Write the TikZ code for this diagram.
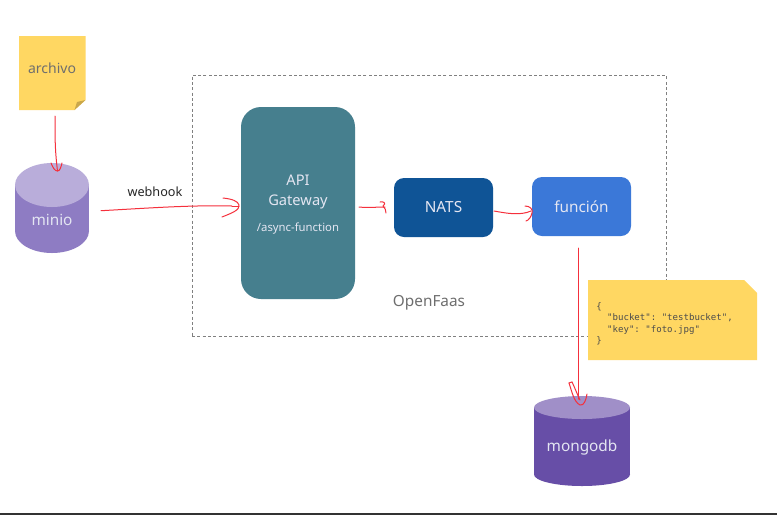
\documentclass[tikz,border=0pt]{standalone}
\usepackage{fontspec}
\setmainfont{Noto Sans}
\setmonofont{DejaVu Sans Mono}
\definecolor{notey}{HTML}{FFD762}
\definecolor{foldy}{HTML}{C9A74C}
\definecolor{apibox}{HTML}{467F8E}
\definecolor{natsbox}{HTML}{0F5496}
\definecolor{funcbox}{HTML}{3B78D8}
\definecolor{miniobody}{HTML}{8E7CC3}
\definecolor{miniotop}{HTML}{B9ADDA}
\definecolor{mongobody}{HTML}{674EA7}
\definecolor{mongotop}{HTML}{A08FC8}
\definecolor{lighttxt}{HTML}{E4E6F2}
\definecolor{graytxt}{HTML}{6E6E6E}
\definecolor{pen}{HTML}{F5303C}
\tikzset{
  box/.style={rectangle,draw=none,text=lighttxt,font=\fontsize{11.5}{14}\selectfont},
  lbl/.style={text=lighttxt,font=\fontsize{11.5}{14}\selectfont},
  redline/.style={draw=pen,line width=0.75pt,line cap=round,line join=round},
}
\begin{document}
\begin{tikzpicture}[x=0.75pt,y=-0.75pt]
\useasboundingbox (0,0) rectangle (777,515);
  \fill[white] (0,0) rectangle (777,515);
  \coordinate (bl) at (0,514);
  \coordinate (br) at (777,514);
  \draw[black!80,line width=1.2pt] (bl) -- (br);
  \node[rectangle,draw=black!50,dash pattern=on 2.2pt off 1.8pt,line width=0.6pt,minimum width=355.5pt,minimum height=195.75pt,inner sep=0pt] (openfaas) at (429,205.5) {};
  \node[text=graytxt,font=\fontsize{11.5}{14}\selectfont] (openfaaslbl) at (429,303) {OpenFaas};
  \fill[notey] (19,36) -- (85.5,36) -- (85.5,100) -- (74.5,110) -- (19,110) -- cycle;
  \fill[foldy] (85.5,100) -- (74.5,110) -- (77,102) -- cycle;
  \node[text=graytxt,font=\fontsize{10.5}{13}\selectfont] (archivo) at (52,68) {archivo};
  \fill[miniobody] (15,185) rectangle (89,231);
  \fill[miniobody] (52,231) ellipse [x radius=37,y radius=22];
  \fill[miniotop] (52,185) ellipse [x radius=37,y radius=22];
  \node[lbl] (minio) at (52,220) {minio};
  \node[box,fill=apibox,rounded corners=15pt,minimum width=85.5pt,minimum height=144pt] (api) at (298,203) {};
  \node[text=lighttxt,font=\fontsize{11}{15}\selectfont,align=center] (apilbl) at (298,192) {API\\Gateway};
  \node[text=lighttxt,font=\fontsize{8.5}{10}\selectfont] (asynclbl) at (298,229) {/async-function};
  \node[box,fill=natsbox,rounded corners=7.5pt,minimum width=74.25pt,minimum height=44.25pt] (nats) at (443.5,207.5) {NATS};
  \node[box,fill=funcbox,rounded corners=7.5pt,minimum width=74.25pt,minimum height=44.25pt] (funcion) at (581.5,206.5) {función};
  \fill[notey] (588,280) -- (744,280) -- (757,293) -- (757,360) -- (588,360) -- cycle;
  \node[anchor=west,inner sep=0pt,text=black!70,align=left,font=\fontsize{6.8}{8.6}\selectfont\ttfamily] (jsontxt) at (596,324) {\{\\\ \ "bucket": "testbucket",\\\ \ "key": "foto.jpg"\\\}};
  \fill[mongobody] (534,407.5) rectangle (630,474.5);
  \fill[mongobody] (582,474.5) ellipse [x radius=48,y radius=11.5];
  \fill[mongotop] (582,407.5) ellipse [x radius=48,y radius=11.5];
  \node[lbl] (mongodb) at (582,448) {mongodb};
  \node[text=black!85,font=\fontsize{9.5}{12}\selectfont] (webhook) at (155,192) {webhook};
  \coordinate (a1) at (55,116);
  \coordinate (a2) at (57.5,171);
  \coordinate (w1) at (101,210.7);
  \coordinate (w2) at (232,206);
  \coordinate (g1) at (359,207);
  \coordinate (g2) at (385,207);
  \coordinate (n1) at (494,211);
  \coordinate (n2) at (531,211);
  \coordinate (f1) at (578,248);
  \coordinate (f2) at (578,399);
  \draw[redline] (a1) .. controls (55,140) and (55,150) .. (a2);
  \draw[redline] (51,163) .. controls (53,168) and (55,171) .. (a2) .. controls (60,171) and (61,167) .. (62,163);
  \draw[redline] (w1) .. controls (150,208) and (190,205) .. (w2);
  \draw[redline] (223,198) .. controls (232,199) and (238,201) .. (239,205) .. controls (240,210) and (232,213) .. (222,217);
  \draw[redline] (232,206) -- (239,206);
  \draw[redline] (g1) .. controls (368,208) and (376,207) .. (g2);
  \draw[redline] (380,202) .. controls (383,201) and (387,203) .. (383,206) .. controls (385,208) and (386,210) .. (386,213);
  \draw[redline] (n1) .. controls (505,213) and (520,216) .. (n2);
  \draw[redline] (525,206) .. controls (530,206) and (533,209) .. (532,213) .. controls (531,217) and (529,220) .. (526,221);
  \draw[redline] (f1) -- (f2);
  \draw[redline] (569,383) .. controls (572,392) and (574,402) .. (580,405) .. controls (584,406) and (586,400) .. (587,394);
  \draw[redline] (572,382) .. controls (575,388) and (577,394) .. (580,400);
  \draw[redline] (569,383) -- (572,382);
\end{tikzpicture}
\end{document}
